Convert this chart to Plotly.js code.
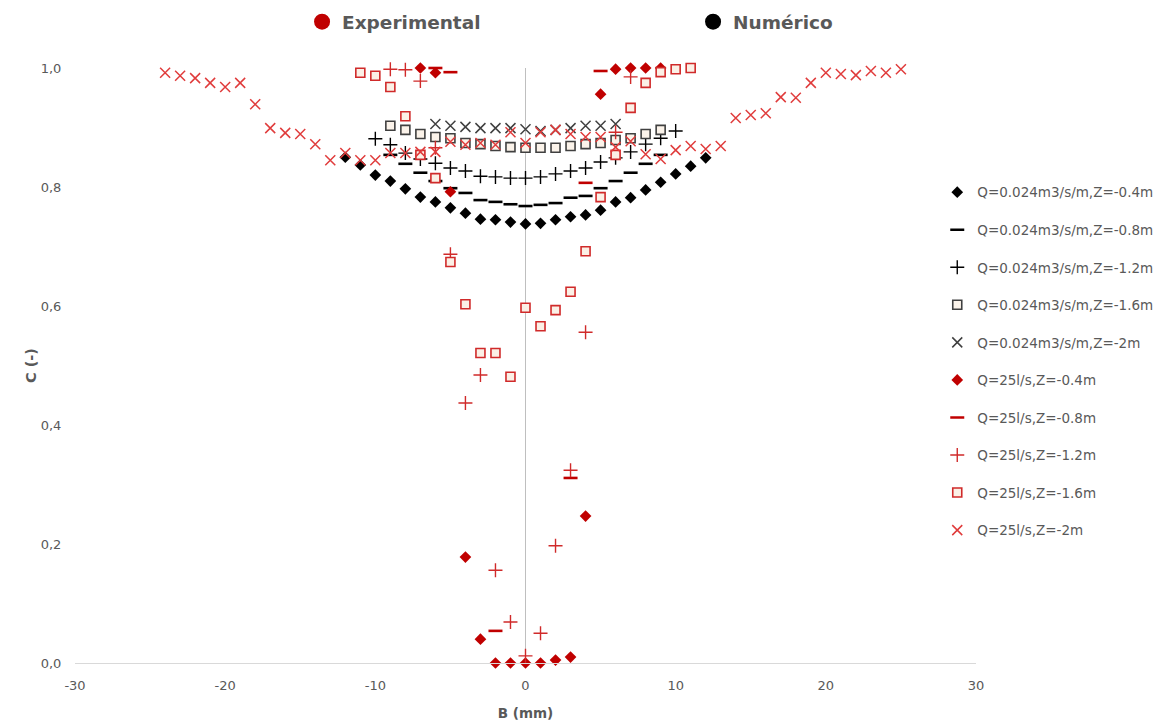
<!DOCTYPE html>
<html>
<head>
<meta charset="utf-8">
<script src="https://cdn.plot.ly/plotly-3.0.1.min.js"></script>
<style>html,body{margin:0;padding:0;background:#fff;}#chart{width:1169px;height:727px;}</style>
</head>
<body>
<div id="chart"></div>
<script>
// ---- Data ----
const seriesNames = [
  "Q=0.024m3/s/m,Z=-0.4m", "Q=0.024m3/s/m,Z=-0.8m", "Q=0.024m3/s/m,Z=-1.2m",
  "Q=0.024m3/s/m,Z=-1.6m", "Q=0.024m3/s/m,Z=-2m",
  "Q=25l/s,Z=-0.4m", "Q=25l/s,Z=-0.8m", "Q=25l/s,Z=-1.2m", "Q=25l/s,Z=-1.6m", "Q=25l/s,Z=-2m"
];

// Numérico
const numZ04_B = [-12,-11,-10,-9,-8,-7,-6,-5,-4,-3,-2,-1,0,1,2,3,4,5,6,7,8,9,10,11,12];
const numZ04_C = [0.850,0.837,0.820,0.810,0.797,0.783,0.775,0.765,0.756,0.746,0.745,0.741,0.738,0.739,0.745,0.750,0.753,0.761,0.775,0.782,0.795,0.808,0.822,0.835,0.849];
const numZ08_B = [-9,-8,-7,-6,-5,-4,-3,-2,-1,0,1,2,3,4,5,6,7,8,9];
const numZ08_C = [0.854,0.839,0.824,0.810,0.798,0.790,0.778,0.775,0.771,0.768,0.770,0.773,0.782,0.785,0.798,0.810,0.824,0.839,0.854];
const numZ12_B = [-10,-9,-8,-7,-6,-5,-4,-3,-2,-1,0,1,2,3,4,5,6,7,8,9,10];
const numZ12_C = [0.881,0.871,0.857,0.847,0.840,0.832,0.827,0.818,0.817,0.815,0.815,0.817,0.822,0.827,0.832,0.842,0.849,0.859,0.872,0.882,0.894];
const numZ16_B = [-9,-8,-7,-6,-5,-4,-3,-2,-1,0,1,2,3,4,5,6,7,8,9];
const numZ16_C = [0.903,0.896,0.889,0.884,0.882,0.874,0.872,0.869,0.867,0.866,0.866,0.866,0.869,0.872,0.874,0.879,0.882,0.889,0.896];
const numZ20_B = [-6,-5,-4,-3,-2,-1,0,1,2,3,4,5,6];
const numZ20_C = [0.906,0.903,0.901,0.899,0.899,0.899,0.897,0.894,0.896,0.899,0.903,0.903,0.906];

// Experimental
const expZ04_B = [-7,-6,-5,-4,-3,-2,-1,0,1,2,3,4,5,6,7,8,9];
const expZ04_C = [1.000,0.992,0.792,0.178,0.040,0.000,0.000,0.000,0.000,0.005,0.010,0.247,0.956,0.998,1.000,1.000,1.000];
const expZ08_B = [-6,-5,-2,3,4,5];
const expZ08_C = [1.000,0.993,0.054,0.311,0.807,0.995];
const expZ12_B = [-9,-8,-7,-6,-5,-4,-3,-2,-1,0,1,2,3,4,6,7];
const expZ12_C = [0.998,0.997,0.978,0.866,0.687,0.437,0.484,0.156,0.069,0.012,0.050,0.197,0.324,0.556,0.892,0.985];
const expZ16_B = [-11,-10,-9,-8,-7,-6,-5,-4,-3,-2,-1,0,1,2,3,4,5,6,7,8,9,10,11];
const expZ16_C = [0.992,0.987,0.968,0.919,0.854,0.815,0.674,0.603,0.521,0.521,0.481,0.597,0.566,0.593,0.624,0.692,0.783,0.854,0.933,0.975,0.993,0.998,1.000];
const expZ20_B = [-24,-23,-22,-21,-20,-19,-18,-17,-16,-15,-14,-13,-12,-11,-10,-9,-8,-7,-6,-5,-4,-3,-2,-1,0,1,2,3,4,5,6,7,8,9,10,11,12,13,14,15,16,17,18,19,20,21,22,23,24,25];
const expZ20_C = [0.992,0.987,0.983,0.975,0.968,0.975,0.939,0.899,0.891,0.889,0.872,0.845,0.857,0.845,0.845,0.857,0.857,0.859,0.859,0.876,0.871,0.874,0.871,0.892,0.874,0.892,0.896,0.889,0.884,0.884,0.867,0.877,0.855,0.847,0.862,0.869,0.864,0.869,0.916,0.921,0.924,0.951,0.950,0.975,0.992,0.990,0.988,0.995,0.992,0.998];

const xTicks = [-30,-20,-10,0,10,20,30];
const yTicks = [0,0.2,0.4,0.6,0.8,1.0];
const groupLabels = ["Experimental", "Numérico"];

// ---- Styles ----
const BLACK = '#000000', DARK = '#404040', RED = '#c00000', RED2 = '#e03c3c', RED3 = '#d02a2a';
const styles = [
  {symbol:'diamond', size:9, color:BLACK, line:{width:0}},
  {symbol:'line-ew', size:10, color:BLACK, line:{width:2.6, color:BLACK}},
  {symbol:'cross-thin', size:10, color:BLACK, line:{width:1.4, color:BLACK}},
  {symbol:'square', size:9, color:'#fbf3ea', line:{width:1.6, color:DARK}},
  {symbol:'x-thin', size:10, color:DARK, line:{width:1.5, color:DARK}},
  {symbol:'diamond', size:9, color:RED, line:{width:0}},
  {symbol:'line-ew', size:10, color:RED, line:{width:2.6, color:RED}},
  {symbol:'cross-thin', size:10, color:RED3, line:{width:1.4, color:RED3}},
  {symbol:'square', size:9, color:'#fbf0e6', line:{width:1.6, color:RED3}},
  {symbol:'x-thin', size:10, color:RED2, line:{width:1.5, color:RED2}}
];
const xs = [numZ04_B,numZ08_B,numZ12_B,numZ16_B,numZ20_B,expZ04_B,expZ08_B,expZ12_B,expZ16_B,expZ20_B];
const ys = [numZ04_C,numZ08_C,numZ12_C,numZ16_C,numZ20_C,expZ04_C,expZ08_C,expZ12_C,expZ16_C,expZ20_C];

const traces = seriesNames.map((n,i)=>({
  type:'scatter', mode:'markers', name:n, x:xs[i], y:ys[i],
  marker:styles[i], cliponaxis:false, legendgroup:'g'+i, legend:'legend'
}));
// group legend (top)
traces.push({type:'scatter', mode:'markers', name:'<b>'+groupLabels[0]+'</b>', x:[null], y:[null],
  marker:{symbol:'circle', size:17, color:RED}, legend:'legend2', showlegend:true});
traces.push({type:'scatter', mode:'markers', name:'<b>'+groupLabels[1]+'</b>', x:[null], y:[null],
  marker:{symbol:'circle', size:17, color:BLACK}, legend:'legend2', showlegend:true});

const GRAY = '#595959';
const FONT = 'DejaVu Sans, sans-serif';
const layout = {
  width:1169, height:727,
  margin:{l:75, r:193, t:68, b:64, autoexpand:false},
  paper_bgcolor:'#ffffff', plot_bgcolor:'#ffffff',
  separators:',.',
  font:{family:FONT, color:GRAY, size:12},
  xaxis:{range:[-30,30], tickvals:xTicks, ticktext:xTicks.map(String),
    showgrid:false, zeroline:true, zerolinecolor:'#bfbfbf', zerolinewidth:1.3,
    showline:true, linecolor:'#d9d9d9', linewidth:1.3,
    ticks:'outside', ticklen:10, tickcolor:'rgba(0,0,0,0)',
    tickfont:{family:FONT, size:13, color:GRAY},
    title:{text:'<b>B (mm)</b>', font:{family:FONT, size:13.5, color:GRAY}, standoff:16}},
  yaxis:{range:[0,1], tickvals:yTicks, tickformat:'.1f',
    showgrid:false, zeroline:false, showline:false,
    ticks:'outside', ticklen:10, tickcolor:'rgba(0,0,0,0)',
    tickfont:{family:FONT, size:13, color:GRAY},
    title:{text:'<b>C (-)</b>', font:{family:FONT, size:14.5, color:GRAY}, standoff:0}},
  legend:{x:0.957, xanchor:'left', y:0.817, yanchor:'top', orientation:'v',
    font:{family:FONT, size:13.5, color:GRAY}, tracegroupgap:17, bgcolor:'rgba(0,0,0,0)',
    itemwidth:30},
  legend2:{x:0.252, xanchor:'left', y:1.077, yanchor:'middle', orientation:'h',
    entrywidth:346, entrywidthmode:'pixels',
    font:{family:FONT, size:18.5, color:GRAY}, bgcolor:'rgba(0,0,0,0)', itemwidth:30},
  showlegend:true
};

Plotly.newPlot('chart', traces, layout, {displayModeBar:false, staticPlot:true});
</script>
</body>
</html>
